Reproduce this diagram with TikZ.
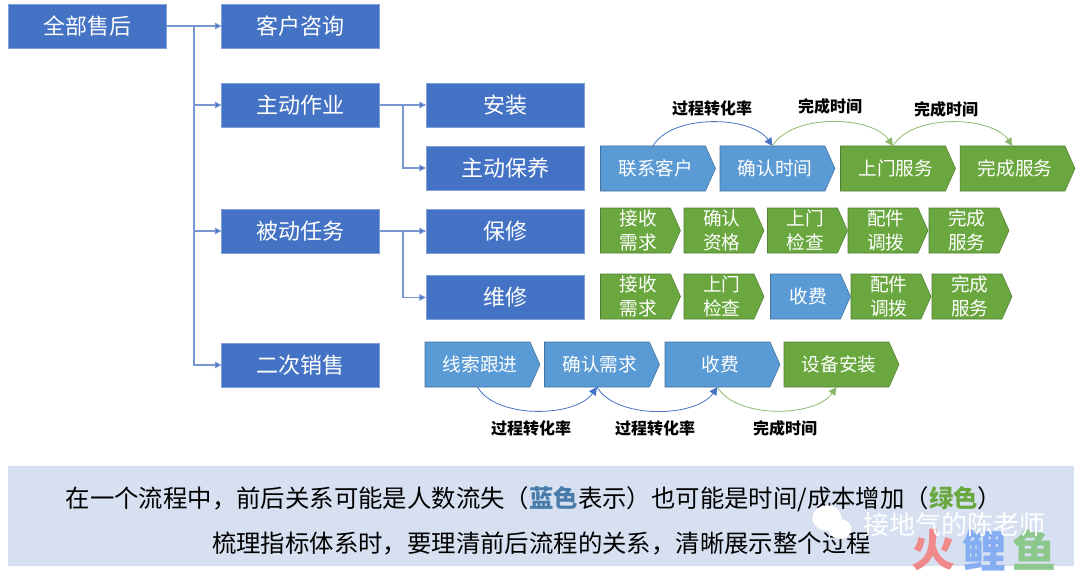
\documentclass[tikz,border=0pt]{standalone}
\usepackage{xcolor}
\usepackage{fontspec}
\setmainfont{Noto Sans CJK SC}
\usepackage{tikz}
\usetikzlibrary{shapes.geometric, shapes.symbols, arrows.meta, calc}
\definecolor{boxcolor}{RGB}{68, 114, 196}
\definecolor{boxedge}{RGB}{130, 160, 215}
\definecolor{linkcolor}{RGB}{120, 150, 210}
\definecolor{ratecolor}{RGB}{91, 155, 213}
\definecolor{rateedge}{RGB}{65, 113, 156}
\definecolor{timecolor}{RGB}{106, 168, 63}
\definecolor{timeedge}{RGB}{80, 126, 50}
\definecolor{arcblue}{RGB}{68, 114, 196}
\definecolor{arcgreen}{RGB}{140, 185, 110}
\definecolor{bandcolor}{RGB}{214, 224, 241}
\definecolor{firecolor}{RGB}{240, 138, 138}
\definecolor{carpcolor}{RGB}{133, 174, 242}
\definecolor{fishcolor}{RGB}{140, 199, 140}

\begin{document}
\begin{tikzpicture}[
    x=0.75pt, y=-0.75pt,
    menu/.style={draw=boxedge, fill=boxcolor, text=white, minimum width=118.5pt, minimum height=33pt, inner sep=0pt, outer sep=0pt, font=\fontsize{16.5}{18}\selectfont},
    chevron/.style={signal, signal to=east, signal pointer angle=132, anchor=west, text=white, align=center, inner sep=0pt, outer sep=0pt, minimum height=33.75pt, font=\fontsize{14}{17.6}\selectfont},
    rate/.style={chevron, draw=rateedge, fill=ratecolor},
    cost/.style={chevron, draw=timeedge, fill=timecolor},
    wide/.style={minimum width=86.25pt},
    narrow/.style={minimum width=60pt},
    link/.style={draw=linkcolor, line width=0.8pt, -{Triangle[length=5pt, width=5pt, fill=boxcolor]}},
    arcrate/.style={draw=arcblue, line width=0.6pt, -{Triangle[length=6pt, width=6pt]}},
    arccost/.style={draw=arcgreen, line width=0.6pt, -{Triangle[length=6pt, width=6pt]}},
    note/.style={font=\fontsize{12}{14}\selectfont\bfseries},
    summary/.style={font=\fontsize{18.3}{20}\selectfont},
    stamp/.style={font=\fontsize{33}{36}\selectfont\bfseries},
]
    \useasboundingbox (0,0) rectangle (1080,574);

    % Bottom band
    \node[fill=bandcolor, minimum width=799.5pt, minimum height=75pt, inner sep=0pt, outer sep=0pt] (band) at (540.5,516) {};
    \node[summary] (lineone) at (534,499) {在一个流程中，前后关系可能是人数流失（\textcolor{ratecolor!80!black}{\bfseries 蓝色}表示）也可能是时间/成本增加（\textcolor{timecolor}{\bfseries 绿色}）};
    \node[summary] (linetwo) at (541.5,543) {梳理指标体系时，要理清前后流程的关系，清晰展示整个过程};

    % Watermark
    \node[stamp, text=firecolor] (markfire) at (933,550) {火};
    \node[stamp, text=carpcolor] (markcarp) at (984,550) {鲤};
    \node[stamp, text=fishcolor] (markfish) at (1034,550) {鱼};
    \node[ellipse, fill=white, minimum width=22pt, minimum height=19pt, inner sep=0pt] (bubbleone) at (827,518) {};
    \node[ellipse, fill=white, minimum width=17pt, minimum height=15pt, inner sep=0pt] (bubbletwo) at (840,529) {};
    \node[font=\fontsize{19.5}{22}\selectfont, text=white] (markname) at (954,525) {接地气的陈老师};

    % Menu boxes
    \node[menu] (aftersale) at (87,26) {全部售后};
    \node[menu] (consult) at (300.5,26) {客户咨询};
    \node[menu] (active) at (300.5,105) {主动作业};
    \node[menu] (passive) at (300.5,231) {被动任务};
    \node[menu] (resale) at (300.5,365) {二次销售};
    \node[menu] (install) at (505,105) {安装};
    \node[menu] (upkeep) at (505,168) {主动保养};
    \node[menu] (warranty) at (505,231) {保修};
    \node[menu] (repair) at (505,297.5) {维修};

    % Links
    \coordinate (trunk) at (194,26);
    \coordinate (activefork) at (403,105);
    \coordinate (passivefork) at (403,231);
    \draw[link] (aftersale.east) -- (consult.west);
    \draw[link] (trunk) |- (active.west);
    \draw[link] (trunk) |- (passive.west);
    \draw[link] (trunk) |- (resale.west);
    \draw[link] (active.east) -- (install.west);
    \draw[link] (activefork) |- (upkeep.west);
    \draw[link] (passive.east) -- (warranty.west);
    \draw[link] (passivefork) |- (repair.west);

    % Upkeep flow
    \node[rate, wide] (contact) at (600.5,168.5) {\hspace*{4pt}联系客户};
    \node[rate, wide] (confirm) at (720,168.5) {\hspace*{4pt}确认时间};
    \node[cost, wide] (visit) at (840.5,168.5) {\hspace*{4pt}上门服务};
    \node[cost, wide] (finish) at (960,168.5) {\hspace*{4pt}完成服务};

    % Warranty flow
    \node[cost, narrow] (wreceive) at (600.5,230.5) {\hspace*{4pt}接收\\\hspace*{4pt}需求};
    \node[cost, narrow] (wcheck) at (684,230.5) {\hspace*{4pt}确认\\\hspace*{4pt}资格};
    \node[cost, narrow] (wvisit) at (767.5,230.5) {\hspace*{4pt}上门\\\hspace*{4pt}检查};
    \node[cost, narrow] (wparts) at (848,230.5) {\hspace*{4pt}配件\\\hspace*{4pt}调拨};
    \node[cost, narrow] (wfinish) at (929,230.5) {\hspace*{4pt}完成\\\hspace*{4pt}服务};

    % Repair flow
    \node[cost, narrow] (rreceive) at (600.5,296.5) {\hspace*{4pt}接收\\\hspace*{4pt}需求};
    \node[cost, narrow] (rvisit) at (684,296.5) {\hspace*{4pt}上门\\\hspace*{4pt}检查};
    \node[rate, narrow] (rfee) at (770.5,296.5) {\hspace*{4pt}收费};
    \node[cost, narrow] (rparts) at (851,296.5) {\hspace*{4pt}配件\\\hspace*{4pt}调拨};
    \node[cost, narrow] (rfinish) at (932,296.5) {\hspace*{4pt}完成\\\hspace*{4pt}服务};

    % Resale flow
    \node[rate, wide] (lead) at (425,364.5) {\hspace*{4pt}线索跟进};
    \node[rate, wide] (needs) at (544.5,364.5) {\hspace*{4pt}确认需求};
    \node[rate, wide] (fee) at (665,364.5) {\hspace*{4pt}收费};
    \node[cost, wide] (setup) at (784,364.5) {\hspace*{4pt}设备安装};

    % Arcs and notes
    \draw[arcrate] (contact.north) to[out=60, in=125, looseness=0.8] (confirm.north);
    \draw[arccost] (confirm.north) to[out=60, in=125, looseness=0.8] (visit.north);
    \draw[arccost] (visit.north) to[out=60, in=125, looseness=0.8] (finish.north);
    \draw[arcrate] (lead.south) to[out=-60, in=-125, looseness=0.8] (needs.south);
    \draw[arcrate] (needs.south) to[out=-60, in=-125, looseness=0.8] (fee.south);
    \draw[arccost] (fee.south) to[out=-60, in=-125, looseness=0.8] (setup.south);
    \node[note] (noteone) at (712,108) {过程转化率};
    \node[note] (notetwo) at (830,106) {完成时间};
    \node[note] (notethree) at (946,109) {完成时间};
    \node[note] (notefour) at (531,428) {过程转化率};
    \node[note] (notefive) at (655,428) {过程转化率};
    \node[note] (notesix) at (785,428) {完成时间};
\end{tikzpicture}
\end{document}
